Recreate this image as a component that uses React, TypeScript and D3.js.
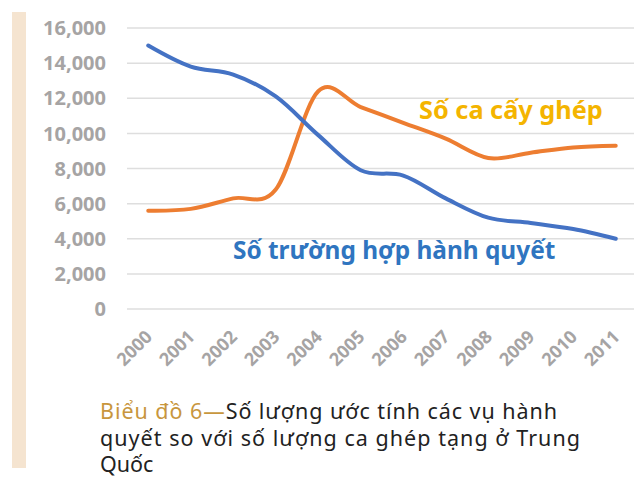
import React, { useRef, useEffect } from "react";
import * as d3 from "d3";

// estimated values
const years = ["2000", "2001", "2002", "2003", "2004", "2005", "2006", "2007", "2008", "2009", "2010", "2011"];
const executions = [15000, 13800, 13350, 12100, 9900, 7900, 7600, 6300, 5200, 4900, 4550, 4000];
const transplants = [5600, 5700, 6300, 6800, 12400, 11500, 10600, 9700, 8600, 8900, 9200, 9300];
const yTicks = [0, 2000, 4000, 6000, 8000, 10000, 12000, 14000, 16000];

const captionLines = [
  { lead: "Biểu đồ 6—", text: "Số lượng ước tính các vụ hành", width: 457 },
  { lead: "", text: "quyết so với số lượng ca ghép tạng ở Trung", width: 480 },
  { lead: "", text: "Quốc", width: 0 },
];

export default function App() {
  const ref = useRef<SVGSVGElement>(null);

  useEffect(() => {
    const width = 634;
    const height = 477;
    const svg = d3.select(ref.current);
    svg.selectAll("*").remove();
    svg.attr("width", width).attr("height", height);

    // beige side bar
    svg.append("rect").attr("x", 12).attr("y", 12).attr("width", 14).attr("height", 456).attr("fill", "#f5e4d0");

    const x = d3.scalePoint<string>().domain(years).range([127, 637]).padding(0.5);
    const y = d3.scaleLinear().domain([0, 16000]).range([309, 28]);

    const grid = svg.append("g");
    grid
      .selectAll("line")
      .data(yTicks)
      .join("line")
      .attr("x1", 127)
      .attr("x2", 640)
      .attr("y1", (d) => y(d))
      .attr("y2", (d) => y(d))
      .attr("stroke", "#dedede")
      .attr("stroke-width", 1.5);

    const tickFont = "'Open Sans', 'DejaVu Sans', sans-serif";
    svg
      .append("g")
      .selectAll("text")
      .data(yTicks)
      .join("text")
      .attr("x", 106)
      .attr("y", (d) => y(d))
      .attr("dy", "0.36em")
      .attr("text-anchor", "end")
      .attr("font-family", tickFont)
      .attr("font-weight", 700)
      .attr("font-size", 20)
      .attr("fill", "#a6a4a4")
      .text((d) => d3.format(",")(d));

    svg
      .append("g")
      .selectAll("text")
      .data(years)
      .join("text")
      .attr("transform", (d) => `translate(${(x(d) ?? 0) + 5},338) rotate(-45)`)
      .attr("text-anchor", "end")
      .attr("font-family", tickFont)
      .attr("font-weight", 700)
      .attr("font-size", 18)
      .attr("fill", "#a6a4a4")
      .text((d) => d);

    const line = d3
      .line<number>()
      .x((_, i) => x(years[i]) ?? 0)
      .y((d) => y(d))
      .curve(d3.curveCardinal.tension(0));

    svg
      .append("path")
      .datum(transplants)
      .attr("d", line)
      .attr("fill", "none")
      .attr("stroke", "#ed7d31")
      .attr("stroke-width", 4)
      .attr("stroke-linecap", "round");

    svg
      .append("path")
      .datum(executions)
      .attr("d", line)
      .attr("fill", "none")
      .attr("stroke", "#4472c4")
      .attr("stroke-width", 4)
      .attr("stroke-linecap", "round");

    const labelFont = "'Noto Sans', 'Open Sans', sans-serif";
    svg
      .append("text")
      .attr("x", 419)
      .attr("y", 119)
      .attr("font-family", labelFont)
      .attr("font-weight", 700)
      .attr("font-size", 25.3)
      .attr("fill", "#f4b400")
      .text("Số ca cấy ghép");

    svg
      .append("text")
      .attr("x", 233)
      .attr("y", 259)
      .attr("font-family", labelFont)
      .attr("font-weight", 700)
      .attr("font-size", 24.4)
      .attr("fill", "#2f75c0")
      .text("Số trường hợp hành quyết");

    const caption = svg
      .append("g")
      .attr("font-family", labelFont)
      .attr("font-size", 21.5);
    captionLines.forEach((l, i) => {
      const t = caption.append("text").attr("x", 100).attr("y", 419 + i * 26.5);
      if (l.width) t.attr("textLength", l.width).attr("lengthAdjust", "spacing");
      if (l.lead) t.append("tspan").attr("fill", "#c8963e").text(l.lead);
      t.append("tspan").attr("fill", "#222222").text(l.text);
    });
  }, []);

  return (
    <div style={{ position: "absolute", left: 0, top: 0 }}>
      <svg ref={ref} style={{ display: "block" }} />
    </div>
  );
}
